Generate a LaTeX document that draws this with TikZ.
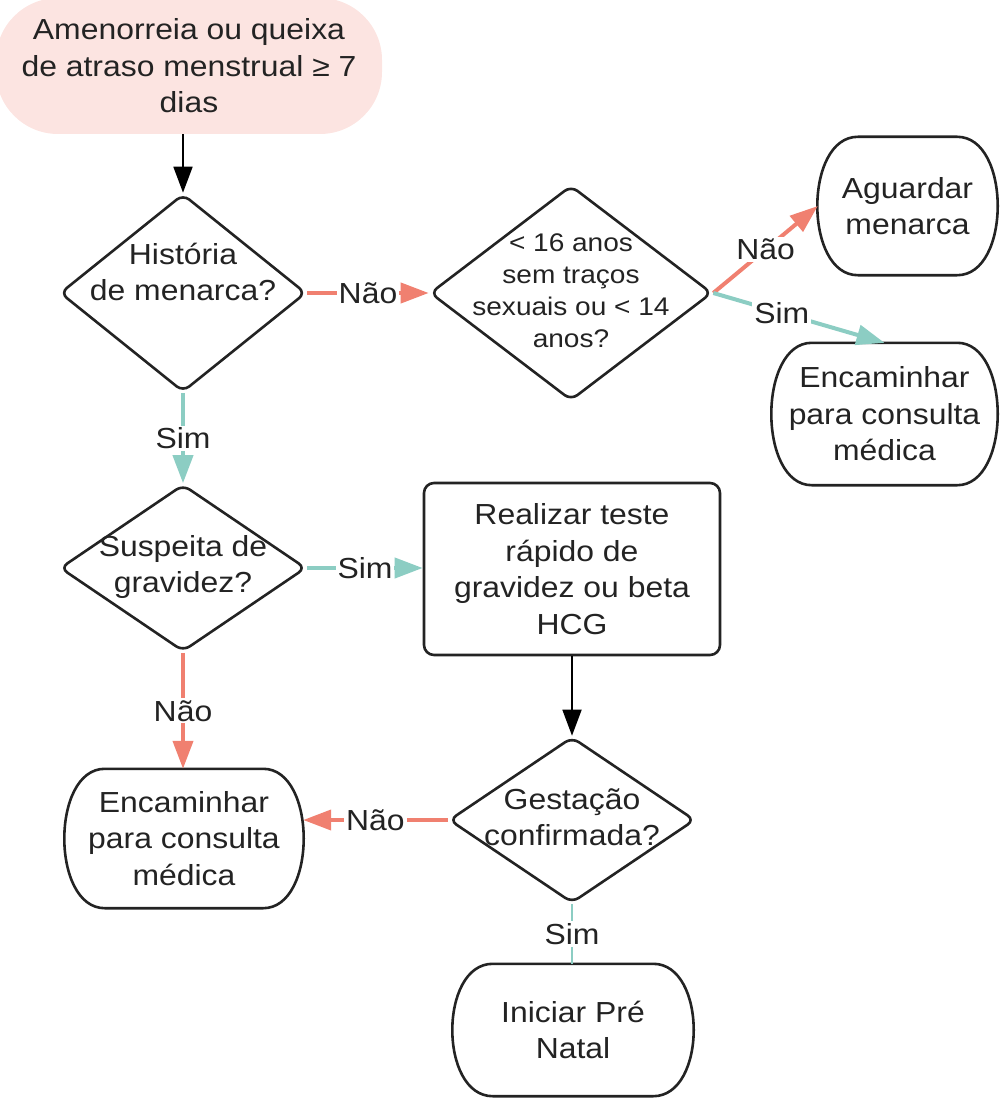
\documentclass[tikz,border=0pt]{standalone}
\usepackage{fontspec}
\setmainfont{Liberation Sans}[FakeStretch=1.1]
\usetikzlibrary{shapes.geometric,arrows.meta}
\definecolor{cred}{RGB}{240,128,112}
\definecolor{cteal}{RGB}{140,205,195}
\definecolor{cpink}{RGB}{252,228,225}
\definecolor{cline}{RGB}{35,35,35}
\newcommand\drawterm[1]{%
  \draw[outl] ([xshift=40pt]#1.north west) -- ([xshift=-40pt]#1.north east)
    .. controls ([xshift=14pt]#1.north east) and ([xshift=14pt]#1.south east) .. ([xshift=-40pt]#1.south east)
    -- ([xshift=40pt]#1.south west)
    .. controls ([xshift=-14pt]#1.south west) and ([xshift=-14pt]#1.north west) .. ([xshift=40pt]#1.north west) -- cycle;}
\begin{document}
\begin{tikzpicture}[x=1pt,y=-1pt,
  txt/.style={font=\fontsize{29}{36.5}\selectfont, align=center, text=cline, inner sep=0pt},
  smalltxt/.style={font=\fontsize{25.5}{32}\selectfont, align=center, text=cline, inner sep=0pt},
  outl/.style={draw=cline, line width=2.6pt, line join=round},
  dia/.style={diamond, draw=cline, line width=2.6pt, rounded corners=8pt, inner sep=0pt},
  lab/.style={txt, fill=white, inner sep=2pt},
  blk/.style={draw=black, line width=1.8pt, -{Triangle[length=26pt,width=19pt]}},
  redA/.style={draw=cred, line width=4pt, -{Triangle[length=28pt,width=20pt]}},
  tealA/.style={draw=cteal, line width=4pt, -{Triangle[length=28pt,width=20pt]}},
  tealthin/.style={draw=cteal, line width=2pt}]
\useasboundingbox (0,0) rectangle (1001,1099);

% start
\node[txt, fill=cpink, rounded corners=62pt, minimum width=386pt, minimum height=136pt] (start) at (189,66)
  {Amenorreia ou queixa\\de atraso menstrual ≥ 7\\dias};

% diamonds
\node[dia, minimum width=246pt, minimum height=198pt] (d1) at (183,293) {};
\node[txt] (d1t) at ([yshift=21pt]d1.center) {História\\de menarca?};
\node[dia, minimum width=282pt, minimum height=215pt] (d2) at (571,293) {};
\node[smalltxt] (d2t) at ([yshift=2pt]d2.center) {< 16 anos\\sem traços\\sexuais ou < 14\\anos?};
\node[dia, minimum width=246pt, minimum height=167pt] (d3) at (183,568) {};
\node[txt] (d3t) at ([yshift=1pt]d3.center) {Suspeita de\\gravidez?};
\node[dia, minimum width=246pt, minimum height=166pt] (d4) at (572,820) {};
\node[txt] (d4t) at ([yshift=3pt]d4.center) {Gestação\\confirmada?};

% process box
\node[txt, draw=cline, line width=2.6pt, rounded corners=10pt, minimum width=296pt, minimum height=172pt] (rt) at (572,569)
  {Realizar teste\\rápido de\\gravidez ou beta\\HCG};

% terminators
\node[txt, minimum width=179pt, minimum height=138pt] (agu) at (907.5,206) {Aguardar\\menarca};
\node[txt, minimum width=225pt, minimum height=142pt] (enc1) at (884.5,414) {Encaminhar\\para consulta\\médica};
\node[txt, minimum width=238pt, minimum height=139pt] (enc2) at (184,838.5) {Encaminhar\\para consulta\\médica};
\node[txt, minimum width=240pt, minimum height=132pt] (ini) at (573,1030) {Iniciar Pré\\Natal};
\drawterm{agu}
\drawterm{enc1}
\drawterm{enc2}
\drawterm{ini}

% connectors
\draw[blk] (start.south -| d1.north) -- (d1.north);
\draw[redA] (d1.east) -- node[lab]{Não} (d2.west);
\draw[redA] (d2.east) -- node[lab]{Não} (agu.west);
\draw[tealA] (d2.east) -- node[lab,pos=0.4]{Sim} (enc1.north);
\draw[tealA] (d1.south) -- node[lab]{Sim} (d3.north);
\draw[tealA] (d3.east) -- node[lab]{Sim} (d3.east -| rt.west);
\draw[redA] (d3.south) -- node[lab]{Não} (d3.south |- enc2.north);
\draw[blk] (rt.south) -- (d4.north);
\draw[redA] (d4.west) -- node[lab]{Não} (d4.west -| enc2.east);
\draw[tealthin] (d4.south) -- node[lab]{Sim} (d4.south |- ini.north);
\end{tikzpicture}
\end{document}
